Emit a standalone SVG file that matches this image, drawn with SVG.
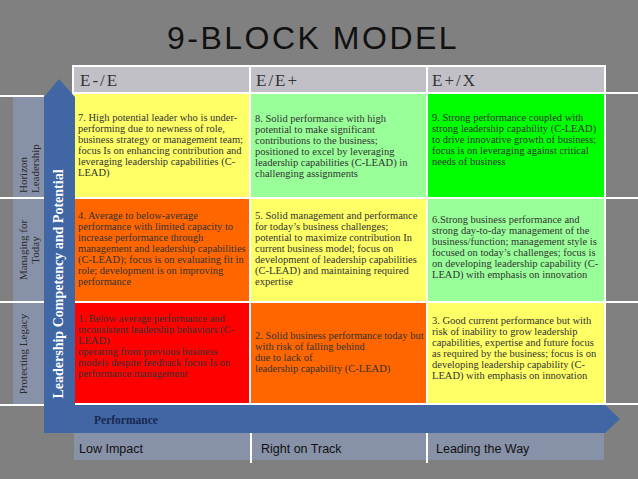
<svg xmlns="http://www.w3.org/2000/svg" width="638" height="479" viewBox="0 0 638 479">
<style>
.cell{font-family:"Liberation Serif","Times New Roman",serif;font-size:10.5px;fill:#333}
.hdr{font-family:"Liberation Serif","Times New Roman",serif;font-size:17px;letter-spacing:2px;fill:#333}
.side{font-family:"Liberation Serif","Times New Roman",serif;font-size:11px;fill:#2a2a2a}
.bot{font-family:"Liberation Sans",Arial,sans-serif;font-size:12.5px;fill:#111}
.wl{stroke:#fff;stroke-width:2}
</style>
<rect width="638" height="479" fill="#808080"/>
<text id="title" x="167" y="49" font-family="Liberation Sans,Arial,sans-serif" font-size="32" letter-spacing="2.5" fill="#111">9-BLOCK MODEL</text>
<g id="gridlines">
<line class="wl" x1="0" y1="96" x2="44" y2="96"/>
<line class="wl" x1="0" y1="198" x2="44" y2="198"/>
<line class="wl" x1="0" y1="302" x2="44" y2="302"/>
<line class="wl" x1="0" y1="405" x2="44" y2="405"/>
<line class="wl" x1="604" y1="93" x2="638" y2="93"/>
<line class="wl" x1="604" y1="198" x2="638" y2="198"/>
<line class="wl" x1="604" y1="302" x2="638" y2="302"/>
<line class="wl" x1="604" y1="404" x2="638" y2="404"/>
<rect x="72" y="65" width="534" height="340" fill="#fff"/>
</g>
<g id="headers">
<rect x="74" y="67" width="175" height="25" fill="#c0c0c6"/>
<rect x="251" y="67" width="175" height="25" fill="#c0c0c6"/>
<rect x="428" y="67" width="176" height="25" fill="#c0c0c6"/>
<text class="hdr" x="80" y="86">E-/E</text>
<text class="hdr" x="256" y="86">E/E+</text>
<text class="hdr" x="432" y="86">E+/X</text>
</g>
<g id="cell7">
<rect x="74" y="94" width="175" height="103" fill="#ffff66"/>
<text class="cell" x="78" y="121"><tspan x="78">7. High potential leader who is under-</tspan><tspan x="78" dy="11">performing due to newness of role,</tspan><tspan x="78" dy="11">business strategy or management team;</tspan><tspan x="78" dy="11">focus Is on enhancing contribution and</tspan><tspan x="78" dy="11">leveraging leadership capabilities (C-</tspan><tspan x="78" dy="11">LEAD)</tspan></text>
</g>
<g id="cell8">
<rect x="251" y="94" width="175" height="103" fill="#99ff99"/>
<text class="cell" x="255" y="122"><tspan x="255">8. Solid performance with high</tspan><tspan x="255" dy="11">potential to make significant</tspan><tspan x="255" dy="11">contributions to the business;</tspan><tspan x="255" dy="11">positioned to excel by leveraging</tspan><tspan x="255" dy="11">leadership capabilities (C-LEAD) in</tspan><tspan x="255" dy="11">challenging assignments</tspan></text>
</g>
<g id="cell9">
<rect x="428" y="94" width="176" height="103" fill="#00ff00"/>
<text class="cell" x="432" y="121"><tspan x="432">9. Strong performance coupled with</tspan><tspan x="432" dy="11">strong leadership capability (C-LEAD)</tspan><tspan x="432" dy="11">to drive innovative growth of business;</tspan><tspan x="432" dy="11">focus is on leveraging against critical</tspan><tspan x="432" dy="11">needs of business</tspan></text>
</g>
<g id="cell4">
<rect x="74" y="199" width="175" height="102" fill="#ff6600"/>
<text class="cell" x="78" y="219" fill="#4a1800"><tspan x="78">4. Average to below-average</tspan><tspan x="78" dy="11">performance with  limited capacity to</tspan><tspan x="78" dy="11">increase performance through</tspan><tspan x="78" dy="11">management and leadership capabilities</tspan><tspan x="78" dy="11">(C-LEAD); focus is on evaluating fit in</tspan><tspan x="78" dy="11">role; development is on improving</tspan><tspan x="78" dy="11">performance</tspan></text>
</g>
<g id="cell5">
<rect x="251" y="199" width="175" height="102" fill="#ffff66"/>
<text class="cell" x="255" y="219"><tspan x="255">5. Solid management and performance</tspan><tspan x="255" dy="11">for today’s business challenges;</tspan><tspan x="255" dy="11">potential to maximize contribution In</tspan><tspan x="255" dy="11">current business model; focus on</tspan><tspan x="255" dy="11">development of leadership capabilities</tspan><tspan x="255" dy="11">(C-LEAD) and maintaining required</tspan><tspan x="255" dy="11">expertise</tspan></text>
</g>
<g id="cell6">
<rect x="428" y="199" width="176" height="102" fill="#99ff99"/>
<text class="cell" x="432" y="223"><tspan x="432">6.Strong business performance and</tspan><tspan x="432" dy="11">strong day-to-day management of  the</tspan><tspan x="432" dy="11">business/function; management style is</tspan><tspan x="432" dy="11">focused on today’s challenges; focus is</tspan><tspan x="432" dy="11">on developing leadership capability (C-</tspan><tspan x="432" dy="11">LEAD) with emphasis on innovation</tspan></text>
</g>
<g id="cell1">
<rect x="74" y="303" width="175" height="100" fill="#ff0000"/>
<text class="cell" x="78" y="322" fill="#800000"><tspan x="78">1. Below average performance and</tspan><tspan x="78" dy="11">inconsistent leadership behaviors (C-</tspan><tspan x="78" dy="11">LEAD)</tspan><tspan x="78" dy="11">operating from previous business</tspan><tspan x="78" dy="11">models despite feedback focus Is on</tspan><tspan x="78" dy="11">performance management</tspan></text>
</g>
<g id="cell2">
<rect x="251" y="303" width="175" height="100" fill="#ff6600"/>
<text class="cell" x="255" y="339" fill="#4a1800"><tspan x="255">2. Solid business performance today but</tspan><tspan x="255" dy="11">with risk of  falling behind</tspan><tspan x="255" dy="11">due to lack of</tspan><tspan x="255" dy="11">leadership capability (C-LEAD)</tspan></text>
</g>
<g id="cell3">
<rect x="428" y="303" width="176" height="100" fill="#ffff66"/>
<text class="cell" x="432" y="324"><tspan x="432">3. Good current performance but with</tspan><tspan x="432" dy="11">risk of  inability to grow leadership</tspan><tspan x="432" dy="11">capabilities, expertise and future focus</tspan><tspan x="432" dy="11">as required by the business; focus is on</tspan><tspan x="432" dy="11">developing leadership capability (C-</tspan><tspan x="432" dy="11">LEAD) with emphasis on innovation</tspan></text>
</g>
<g id="side-labels">
<rect x="13" y="97" width="31" height="307" fill="#8791a8"/>
<line class="wl" x1="0" y1="198" x2="44" y2="198"/>
<line class="wl" x1="0" y1="302" x2="44" y2="302"/>
<text class="side" transform="translate(27,193) rotate(-90)"><tspan x="0" y="0">Horizon</tspan><tspan x="0" y="12">Leadership</tspan></text>
<text class="side" text-anchor="middle" transform="translate(27,250) rotate(-90)"><tspan x="0" y="0">Managing for</tspan><tspan x="0" y="12">Today</tspan></text>
<text class="side" text-anchor="middle" transform="translate(27,354) rotate(-90)">Protecting Legacy</text>
</g>
<g id="bottom-labels">
<rect x="74" y="433" width="530" height="27" fill="#8791a8"/>
<line class="wl" x1="251" y1="433" x2="251" y2="463"/>
<line class="wl" x1="427" y1="433" x2="427" y2="463"/>
<text class="bot" x="79" y="453">Low Impact</text>
<text class="bot" x="261" y="453">Right on Track</text>
<text class="bot" x="436" y="453">Leading the Way</text>
</g>
<g id="connectors">
<path d="M44,433 L44,97 L59,79 L75,97 L75,405 L605,405 L620,419 L605,433 Z" fill="#4066a3"/>
</g>
<g id="axis-labels">
<text transform="translate(63,284) rotate(-90)" text-anchor="middle" font-family="Liberation Serif,Times New Roman,serif" font-size="14" font-weight="bold" fill="#fff">Leadership Competency and Potential</text>
<text x="94" y="424" font-family="Liberation Serif,Times New Roman,serif" font-size="11.5" font-weight="bold" fill="#1a2850">Performance</text>
</g>
</svg>
